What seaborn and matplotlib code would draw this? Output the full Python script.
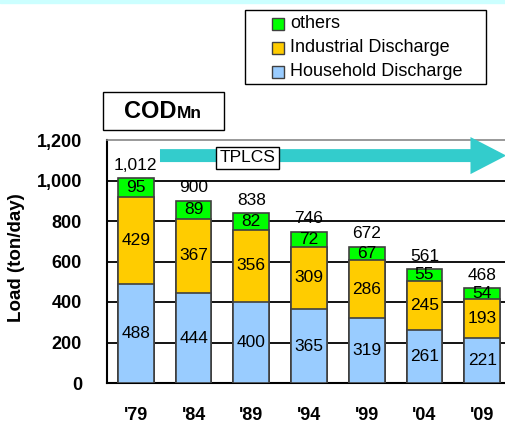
import matplotlib
matplotlib.use("Agg")
import matplotlib.pyplot as plt
import seaborn as sns
import pandas as pd
from matplotlib.patches import Rectangle, FancyArrow

# data (ton/day)
years = ["'79", "'84", "'89", "'94", "'99", "'04", "'09"]
household = [488, 444, 400, 365, 319, 261, 221]
industrial = [429, 367, 356, 309, 286, 245, 193]
others = [95, 89, 82, 72, 67, 55, 54]
totals = [1012, 900, 838, 746, 672, 561, 468]

c_house = "#99CCFF"
c_ind = "#FFCC00"
c_oth = "#00FF00"
edge = "#404040"

sns.set_style("white")
plt.rcParams['font.family'] = ['Liberation Sans', 'DejaVu Sans']
plt.rcParams['text.color'] = 'black'
plt.rcParams['xtick.color'] = 'black'
plt.rcParams['ytick.color'] = 'black'
plt.rcParams['axes.labelcolor'] = 'black'

df = pd.DataFrame({"year": years, "house": household, "ind": industrial, "oth": others})
df["lower2"] = df["house"] + df["ind"]
df["top"] = df["lower2"] + df["oth"]

W, H = 505, 424
fig = plt.figure(figsize=(W / 100, H / 100), dpi=100)
ax = fig.add_axes([107 / W, 1 - 383 / H, (511 - 107) / W, (383 - 140) / H])

# grid lines under the bars
for g in [200, 400, 600, 800, 1000]:
    ax.axhline(g, color="black", lw=1.3, zorder=0)

# stacked bars: draw cumulative heights from the top down
sns.barplot(data=df, x="year", y="top", color=c_oth, width=0.62, edgecolor=edge,
            linewidth=1.2, saturation=1, ax=ax, zorder=2)
sns.barplot(data=df, x="year", y="lower2", color=c_ind, width=0.62, edgecolor=edge,
            linewidth=1.2, saturation=1, ax=ax, zorder=3)
sns.barplot(data=df, x="year", y="house", color=c_house, width=0.62, edgecolor=edge,
            linewidth=1.2, saturation=1, ax=ax, zorder=4)

for i in range(len(years)):
    h, d, o = household[i], industrial[i], others[i]
    ax.text(i, h / 2, str(h), ha="center", va="center", fontsize=12.5, zorder=6)
    ax.text(i, h + d / 2, str(d), ha="center", va="center", fontsize=12.5, zorder=6)
    ax.text(i, h + d + o / 2, str(o), ha="center", va="center", fontsize=12.5, zorder=6)
    ax.annotate(f"{totals[i]:,}", (i, totals[i]), xytext=(0, 4), textcoords="offset points",
                ha="center", va="bottom", fontsize=12.5, zorder=6)

ax.set_xlim(-0.5, 6.5)
ax.set_ylim(0, 1200)
ax.set_yticks(range(0, 1201, 200))
ax.set_yticklabels([f"{v:,}" for v in range(0, 1201, 200)], fontweight="bold", fontsize=13)
ax.set_xticks(range(len(years)))
ax.set_xticklabels(years, fontweight="bold", fontsize=13)
ax.set_xticks([k + 0.5 for k in range(len(years) - 1)], minor=True)
ax.tick_params(axis="x", which="major", length=0, pad=17)
ax.tick_params(axis="x", which="minor", direction="in", length=5, width=1, color="black")
ax.tick_params(axis="y", direction="in", length=3, pad=18, color="black")
ax.set_xlabel("")
ax.set_ylabel("")
for s in ["left", "bottom"]:
    ax.spines[s].set_color("black")
    ax.spines[s].set_linewidth(1.5)
ax.spines["top"].set_color("#888888")
ax.spines["top"].set_linewidth(1.2)
ax.spines["right"].set_visible(False)

fig.text(17 / W, 1 - 258 / H, "Load (ton/day)", rotation=90, ha="center", va="center",
         fontsize=13.5, fontweight="bold")

# TPLCS arrow
ax.add_patch(FancyArrow(0.418, 1123, 6.0, 0, width=64, head_width=183, head_length=0.62,
                        length_includes_head=True, color="#33CCCC", lw=0, clip_on=False, zorder=5))
ax.text(1.935, 1113, "TPLCS", ha="center", va="center", fontsize=12.5, zorder=7,
        bbox=dict(boxstyle="square,pad=0.2", fc="white", ec="black", lw=1))

# top cyan strip
fig.patches.append(Rectangle((0, 1 - 3 / H), 1, 3 / H, transform=fig.transFigure,
                             color="#CCFFFF", zorder=0))

# title box
fig.patches.append(Rectangle((103 / W, 1 - 130 / H), 121 / W, 38 / H, transform=fig.transFigure,
                             fc="white", ec="black", lw=1))
fig.text(124 / W, 1 - 118 / H, "COD", ha="left", va="baseline", fontsize=17, fontweight="bold")
fig.text(177 / W, 1 - 118 / H, "Mn", ha="left", va="baseline", fontsize=12.5, fontweight="bold")

# legend box
fig.patches.append(Rectangle((245 / W, 1 - 84 / H), 241 / W, 74 / H, transform=fig.transFigure,
                             fc="white", ec="black", lw=1))
names = ["others", "Industrial Discharge", "Household Discharge"]
cols = [c_oth, c_ind, c_house]
for k, (n, c) in enumerate(zip(names, cols)):
    yc = 24 + 24 * k
    fig.patches.append(Rectangle((272 / W, 1 - (yc + 6) / H), 12 / W, 12 / H,
                                 transform=fig.transFigure, fc=c, ec=edge, lw=1))
    fig.text(290 / W, 1 - yc / H, n, ha="left", va="center", fontsize=13)

fig.savefig("out.png", dpi=100)
